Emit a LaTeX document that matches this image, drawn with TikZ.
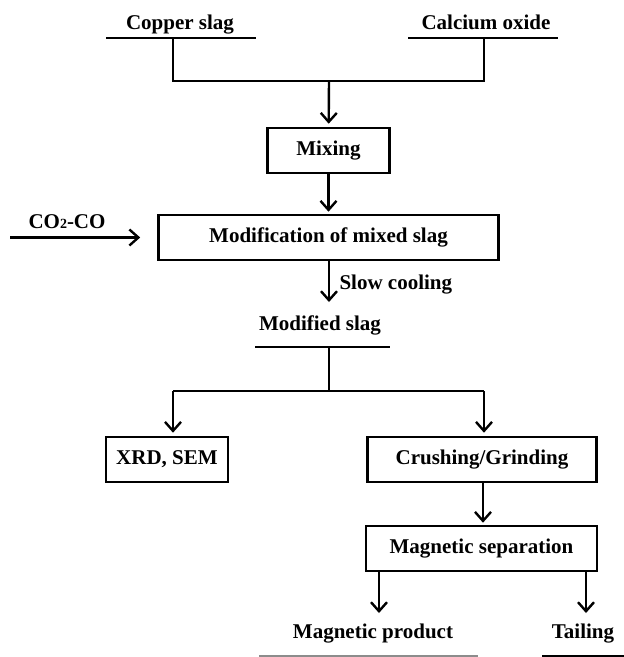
\documentclass[tikz,border=0pt]{standalone}
\usepackage{fontspec}
\setmainfont{Liberation Serif}
\usepackage{tikz}
\usetikzlibrary{arrows.meta,positioning,calc}

\begin{document}
\begin{tikzpicture}[x=1pt,y=-1pt,
  line width=2.4pt,
  >={Straight Barb[length=9pt,width=16pt]},
  every node/.style={font=\fontsize{21}{25}\selectfont\bfseries},
  box/.style={draw,line width=2.6pt,minimum height=45pt,inner sep=0pt}]
\useasboundingbox (0,0) rectangle (624,657);
\node[anchor=base] (cslag) at (180,29) {Copper slag};
\node[anchor=base] (cao) at (486,29) {Calcium oxide};
\coordinate (cs) at (173,38);
\coordinate (co) at (484,38);
\coordinate (j1) at (329,81);
\draw (106,38) -- (256,38);
\draw (408,38) -- (558,38);
\draw (cs) -- (cs |- j1) -- (co |- j1) -- (co);
\node[box,minimum width=122pt] (mix) at (328.5,150.5) {Mixing};
\draw[->,shorten >=3pt] (j1) -- (mix);
\node[box,minimum width=340pt] (modif) at (328.5,237.5) {Modification of mixed slag};
\draw[->,shorten >=2pt] (mix) -- (modif);
\node[anchor=base] (gas) at (67,228) {CO{\fontsize{14}{16}\selectfont 2}-CO};
\coordinate (gasin) at (10,237.5);
\draw[->,shorten >=17pt] (gasin) -- (modif);
% cooling
\coordinate (cool) at (329,302);
\draw[->] (modif.south -| cool) -- (cool) node[right=6pt,midway,anchor=base west,yshift=-8pt] (slow) {Slow cooling};
\node[anchor=base] (mslag) at (320,330) {Modified slag};
\coordinate (j2) at (329,347);
\coordinate (j3) at (329,391);
\draw (255,347) -- (390,347);
\draw (j2) -- (j3);
\node[box,minimum width=122pt] (xrd) at (167,459.5) {XRD, SEM};
\node[box,minimum width=229pt] (crush) at (482,459.5) {Crushing/Grinding};
\coordinate (bl) at (173,391);
\coordinate (br) at (484,391);
\draw (bl) -- (br);
\draw[->,shorten >=3pt] (bl) -- (bl |- xrd.north);
\draw[->,shorten >=3pt] (br) -- (br |- crush.north);
\node[box,minimum width=231pt] (msep) at (481.5,548.5) {Magnetic separation};
\draw[->,shorten >=2pt] (crush.south -| 483,0) -- (msep.north -| 483,0);
% products
\node[anchor=base] (mprod) at (373,638) {Magnetic product};
\node[anchor=base] (tail) at (583,638) {Tailing};
\coordinate (pa) at (379,613);
\coordinate (ta) at (586,613);
\draw[->] (msep.south -| pa) -- (pa);
\draw[->] (msep.south -| ta) -- (ta);
\draw[black!45,line width=2pt] (259,656) -- (478,656);
\draw[line width=2pt] (542,656) -- (624,656);
\end{tikzpicture}
\end{document}
